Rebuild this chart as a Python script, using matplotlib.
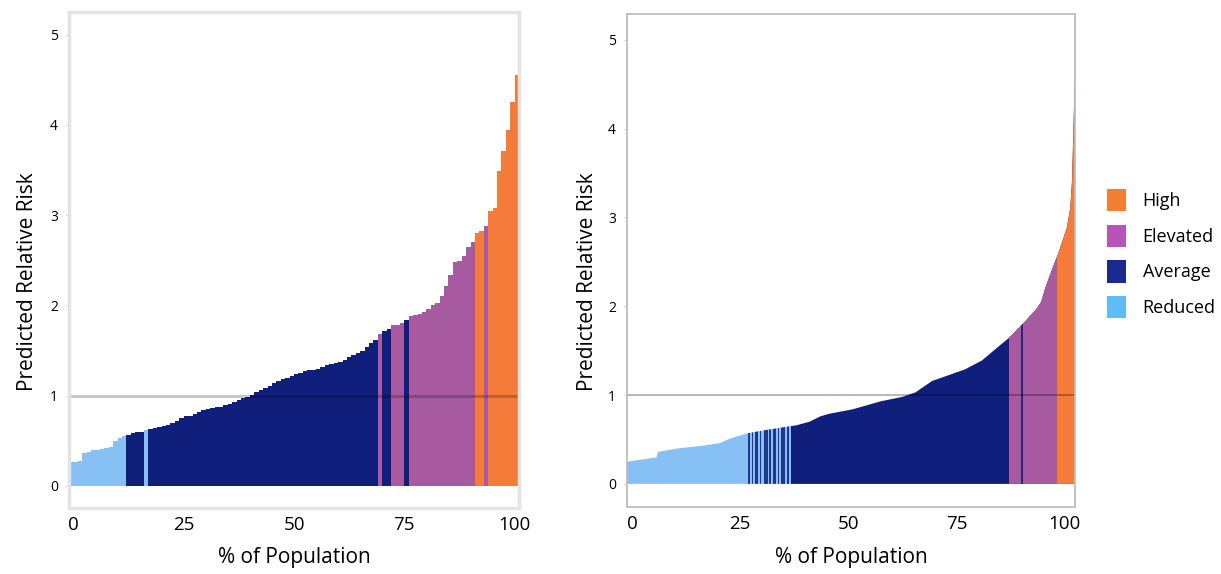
import numpy as np
import matplotlib.pyplot as plt
from matplotlib.patches import Patch

plt.rcParams['font.family'] = ['Open Sans', 'DejaVu Sans']

# ---- left panel: binned predicted relative risk (1% bins) ----
left_start = -1
left_risk = [0.26, 0.27, 0.28, 0.37, 0.38, 0.40, 0.40, 0.41, 0.42, 0.43, 0.50, 0.53, 0.55,
             0.57, 0.59, 0.60, 0.60, 0.62,
             0.63, 0.64, 0.65, 0.66, 0.68, 0.70, 0.72, 0.75, 0.77, 0.78, 0.80, 0.82, 0.84,
             0.85, 0.86, 0.87, 0.88, 0.90, 0.91, 0.93, 0.95, 0.97, 0.99, 1.01, 1.04, 1.06,
             1.09, 1.11, 1.14, 1.16, 1.18, 1.20, 1.22, 1.24, 1.25, 1.27, 1.28, 1.28, 1.30,
             1.32, 1.34, 1.35, 1.36, 1.37, 1.40, 1.43, 1.45, 1.47, 1.50, 1.54, 1.58, 1.62,
             1.68, 1.72, 1.74, 1.78, 1.78, 1.80, 1.84,
             1.88, 1.89, 1.91, 1.93, 1.96, 2.00, 2.03, 2.10, 2.22, 2.34, 2.48, 2.49, 2.55,
             2.65, 2.70,
             2.80, 2.82, 2.88, 3.05, 3.08, 3.49, 3.71, 3.94, 4.25, 4.55]
left_runs = [("Reduced", 13), ("Average", 4), ("Reduced", 1), ("Average", 52),
             ("Elevated", 1), ("Average", 2), ("Elevated", 3), ("Average", 1),
             ("Elevated", 15), ("High", 2), ("Elevated", 1), ("High", 7)]

# ---- right panel: individual-level curve ----
right_x = [-1.2, 3.0, 5.7, 5.9, 10.6, 16.4, 20.3, 22.6, 26.7, 30.1, 34.0, 38.0, 41.0,
           43.5, 45.6, 51.0, 57.5, 62.5, 65.5, 67.3, 69.4, 71.2, 77.0, 80.9, 84.8, 87.3,
           90.7, 93.5, 94.6, 95.5, 96.6, 98.5, 100.5, 101.3, 101.7, 102.0, 102.2, 102.4]
right_risk = [0.25, 0.28, 0.30, 0.36, 0.40, 0.43, 0.46, 0.51, 0.57, 0.60, 0.63, 0.66, 0.70,
              0.76, 0.79, 0.84, 0.93, 0.98, 1.03, 1.09, 1.16, 1.19, 1.29, 1.39, 1.55, 1.65,
              1.82, 1.97, 2.05, 2.20, 2.35, 2.59, 2.88, 3.10, 3.40, 3.90, 4.30, 4.63]
right_segments = [(-1.2, 37.0, "Reduced"), (26.8, 27.3, "Average"), (27.6, 28.0, "Average"),
                  (28.3, 29.2, "Average"), (29.6, 29.9, "Average"), (30.4, 31.3, "Average"),
                  (31.7, 32.1, "Average"), (32.5, 33.3, "Average"), (33.7, 34.0, "Average"),
                  (34.4, 35.4, "Average"), (35.8, 36.3, "Average"), (36.7, 102.4, "Average"),
                  (87.1, 98.2, "Elevated"), (89.9, 90.3, "Average"), (98.2, 102.4, "High")]

bar_colors = {"High": "#F47B3A", "Elevated": "#A85AA0", "Average": "#101E7C", "Reduced": "#86C0F5"}
stripe_alpha = {"High": 1.0, "Elevated": 1.0, "Average": 0.85, "Reduced": 1.0}
legend_colors = {"High": "#F47F33", "Elevated": "#B854B8", "Average": "#1B2A8F", "Reduced": "#5EBDF7"}

fig = plt.figure(figsize=(12.21, 5.74), dpi=100)
ax1 = fig.add_axes([0.0565, 0.115, 0.3686, 0.864])
ax2 = fig.add_axes([0.5135, 0.1167, 0.3669, 0.859])

# left bars
cats = []
for name, n in left_runs:
    cats += [name] * n
xs = np.arange(left_start, left_start + len(left_risk))
cols = [bar_colors[c] for c in cats]
ax1.bar(xs, left_risk, width=1.0, align='edge', color=cols, linewidth=0, antialiased=False)
ax1.axhline(1, color='black', alpha=0.22, lw=2.2)
ax1.set_xlim(-1, 101)
ax1.set_ylim(-0.244, 5.25)
for s in ax1.spines.values():
    s.set_color('#E3E3E3')
    s.set_linewidth(2.5)

# right curve, coloured by category stripes clipped to the curve
area = ax2.fill_between(right_x, 0, right_risk, color='none', lw=0)
clip = area.get_paths()[0]
for x0, x1, name in right_segments:
    a = stripe_alpha[name] if x1 - x0 < 2 else 1.0
    span = ax2.axvspan(x0, x1, color=bar_colors[name], alpha=a, lw=0)
    span.set_clip_path(clip, ax2.transData)
ax2.axhline(1, color='black', alpha=0.3, lw=1.3)
ax2.set_xlim(-1.2, 102.4)
ax2.set_ylim(-0.26, 5.29)
for s in ax2.spines.values():
    s.set_color('#BDBDBD')
    s.set_linewidth(1.3)

for ax in (ax1, ax2):
    ax.set_xticks([0, 25, 50, 75, 100])
    ax.set_yticks([0, 1, 2, 3, 4, 5])
    ax.tick_params(axis='x', length=0, labelsize=13.5, pad=6)
    ax.tick_params(axis='y', length=2, color='#D0D0D0', labelsize=10, pad=6)
    ax.set_xlabel('% of Population', fontsize=15)
    ax.set_ylabel('Predicted Relative Risk', fontsize=15)

ax1.yaxis.set_label_coords(-0.069, 0.456)
ax2.yaxis.set_label_coords(-0.065, 0.456)
ax1.xaxis.set_label_coords(0.5, -0.079)
ax2.xaxis.set_label_coords(0.5, -0.081)

handles = [Patch(facecolor=legend_colors[k], edgecolor='none', label=k)
           for k in ["High", "Elevated", "Average", "Reduced"]]
fig.legend(handles=handles, loc='center left', bbox_to_anchor=(0.893, 0.558),
           frameon=False, fontsize=13, handlelength=1.1, handleheight=1.5,
           handletextpad=0.9, labelspacing=0.75)

fig.savefig('out.png', dpi=100)
